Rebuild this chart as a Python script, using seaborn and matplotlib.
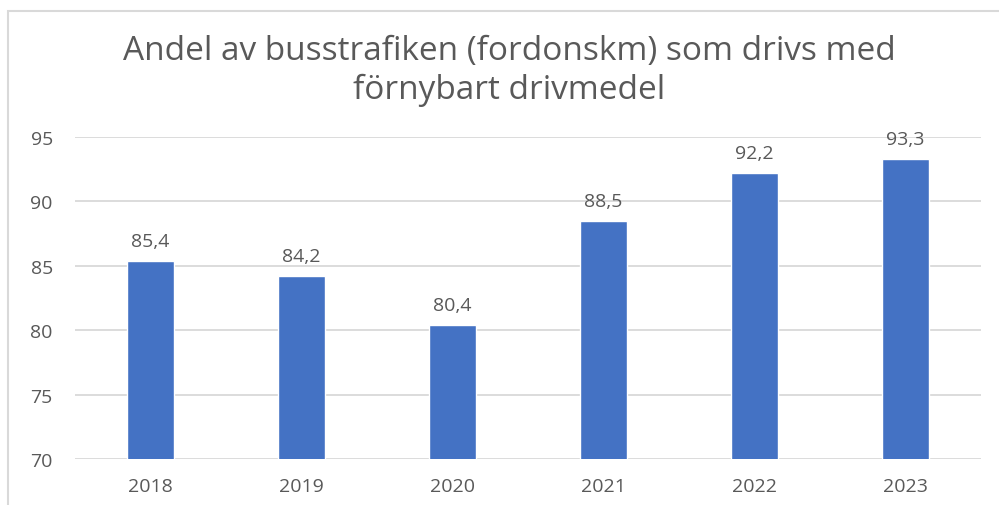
import matplotlib
matplotlib.use("Agg")
import matplotlib.pyplot as plt
import seaborn as sns
import pandas as pd
from matplotlib.patches import Rectangle

# Data
years = ["2018", "2019", "2020", "2021", "2022", "2023"]
shares = [85.4, 84.2, 80.4, 88.5, 92.2, 93.3]
y_ticks = [70, 75, 80, 85, 90, 95]

title_lines = "Andel av busstrafiken (fordonskm) som drivs med\nförnybart drivmedel"

sns.set_theme(style="white")
plt.rcParams["font.family"] = ["Open Sans", "DejaVu Sans"]

df = pd.DataFrame({"year": years, "share": shares})

text_grey = "#595959"
grid_grey = "#d9d9d9"
bar_blue = "#4472c4"

fig = plt.figure(figsize=(9.99, 5.06), dpi=100)
ax = fig.add_axes([75 / 999, 1 - 460 / 506, (981 - 75) / 999, (460 - 138) / 506])

sns.barplot(data=df, x="year", y="share", color=bar_blue, width=0.31,
            saturation=1, ax=ax)

ax.set_ylim(70, 95)
ax.set_yticks(y_ticks)
ax.set_xlim(-0.5, len(years) - 0.5)
ax.grid(axis="y", color=grid_grey, linewidth=1.3)
ax.set_axisbelow(True)
for s in ax.spines.values():
    s.set_visible(False)
ax.set_xlabel("")
ax.set_ylabel("")
ax.tick_params(axis="both", length=0, labelsize=14, labelcolor=text_grey)
ax.tick_params(axis="y", pad=16)
ax.tick_params(axis="x", pad=13)

# value labels with decimal comma
for i, v in enumerate(shares):
    ax.annotate(f"{v:.1f}".replace(".", ","), (i, v), xytext=(0, 8),
                textcoords="offset points", ha="center", va="bottom",
                fontsize=14, color=text_grey)

fig.text(509 / 999, 1 - 71 / 506, title_lines, ha="center", va="center",
         fontsize=24, color=text_grey, linespacing=1.25)

# chart frame
fig.patches.append(Rectangle((8 / 999, -0.05), 1.2, 1 - 12 / 506 + 0.05,
                             transform=fig.transFigure, fill=False,
                             edgecolor=grid_grey, linewidth=1.5))

fig.savefig("out.png", dpi=100)
